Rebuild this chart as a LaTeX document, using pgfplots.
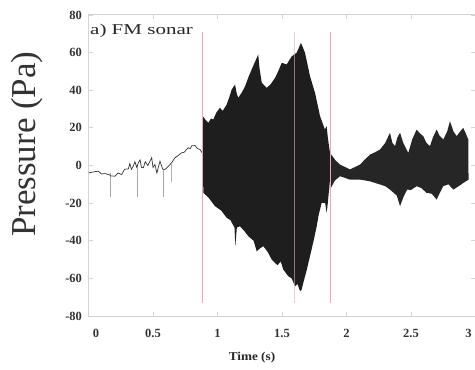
\documentclass[border=0pt]{standalone}
\usepackage{pgfplots}
\pgfplotsset{compat=1.18}
\usepackage{fontspec}
\setmainfont{Liberation Serif}
\definecolor{axgray}{HTML}{D4D4D4}
\definecolor{redline}{HTML}{EBA9AE}
\definecolor{sig}{HTML}{1E1E1E}
\begin{document}
\begin{tikzpicture}
\begin{axis}[
  scale only axis, width=387pt, height=301pt,
  xmin=0, xmax=3, ymin=-80, ymax=80,
  xtick={0,0.5,1,1.5,2,2.5,3},
  xticklabels={\hspace{15pt}0,0.5,1,1.5,2,2.5,3\rule{14pt}{0pt}},
  ytick={-80,-60,-40,-20,0,20,40,60,80},
  /pgf/number format/assume math mode=true,
  axis line style={axgray, line width=1pt},
  tick style={axgray, line width=0.8pt},
  tick label style={font=\bfseries\fontsize{12.5}{13}\selectfont, text=black!80},
  yticklabel style={xshift=-3pt},
  xticklabel style={yshift=-10pt},
  xlabel={\scalebox{1.1}[1]{\bfseries\fontsize{12}{12}\selectfont Time (s)}},
  xlabel style={at={([yshift=-42pt]axis description cs:0.4225,0)}, anchor=center, text=black!85},
  ylabel={\fontsize{35}{35}\selectfont Pressure (Pa)},
  ylabel style={at={([xshift=-61pt]axis description cs:0,0.571)}, anchor=center, text=black!80},
  clip=true,
]
\coordinate (A) at (rel axis cs:0,0);
\coordinate (B) at (rel axis cs:1,1);
% faint spikes in the pre-signal trace
\addplot[black!35, line width=0.6pt] coordinates {(0.167,-4) (0.167,-17)};
\addplot[black!35, line width=0.6pt] coordinates {(0.376,0) (0.376,-17)};
\addplot[black!35, line width=0.6pt] coordinates {(0.578,-2) (0.578,-17)};
\addplot[black!30, line width=0.6pt] coordinates {(0.64,1) (0.64,-9)};
% pre-signal trace
\addplot[black!80, line width=0.7pt] coordinates {
(0.0,-4) (0.03,-3.5) (0.076,-3) (0.10,-4.5) (0.128,-4.3) (0.165,-5) (0.170,-5.5)
(0.205,-5.7) (0.23,-4) (0.257,-4.8) (0.28,-2) (0.309,-1.8) (0.32,1) (0.333,-2) (0.347,-0.4)
(0.36,2) (0.374,-1) (0.386,1.4) (0.40,3) (0.41,-1) (0.425,-1.2) (0.44,2)
(0.46,0) (0.49,4.1) (0.5,-1) (0.515,0.5) (0.53,-4) (0.554,2.3) (0.576,-2) (0.581,-2)
(0.593,-2.1) (0.61,-1) (0.632,0.5) (0.65,2) (0.67,4.1) (0.69,5) (0.72,6.7) (0.74,7) (0.774,9.4)
(0.79,9) (0.80,10.5) (0.826,10.6) (0.845,9) (0.864,8.5) (0.888,6)
};
% main burst envelope
\addplot[draw=none, fill=sig] coordinates {
(0.887,5) (0.889,26) (0.91,24) (0.929,22.7) (0.95,25) (0.967,24.4) (0.99,28) (1.019,30.7)
(1.04,29) (1.071,32.4) (1.09,36) (1.11,40.4) (1.136,43) (1.15,38) (1.161,36) (1.19,39)
(1.213,42) (1.24,47) (1.265,51) (1.29,55) (1.316,59) (1.325,52) (1.343,44) (1.381,41.3)
(1.41,43) (1.446,46.6) (1.47,50) (1.498,54.6) (1.536,53.7) (1.575,58) (1.614,60) (1.647,65.2)
(1.66,63) (1.678,60) (1.70,53) (1.717,47.5) (1.756,38.6) (1.795,26.2) (1.833,19.1) (1.846,21)
(1.855,15) (1.872,6.7) (1.91,3.2)
(1.88,-8) (1.872,-7.5) (1.855,-20) (1.846,-25.2) (1.835,-20) (1.808,-19.8) (1.785,-26)
(1.769,-32.3) (1.745,-40) (1.717,-48.2) (1.69,-56) (1.665,-62.4) (1.652,-66) (1.64,-66.8)
(1.62,-63) (1.601,-64.2) (1.575,-60) (1.549,-58.9) (1.51,-55.3) (1.49,-51) (1.465,-53)
(1.42,-50) (1.39,-46) (1.355,-42.9) (1.33,-44) (1.304,-45.6) (1.28,-40) (1.239,-37.6)
(1.21,-35) (1.174,-32.3) (1.15,-33) (1.138,-43) (1.132,-33) (1.1,-29) (1.071,-27.8)
(1.03,-24) (0.98,-21.6) (0.93,-17) (0.89,-14.5) (0.887,5)
};
% post-signal envelope
\addplot[draw=none, fill=black!85] coordinates {
(1.87,3.2) (1.91,3) (1.95,0.5) (2.027,-2.1) (2.105,0.5) (2.14,3) (2.182,5.8) (2.22,7)
(2.26,8.5) (2.30,12) (2.337,17.4) (2.356,12) (2.376,10.3) (2.395,15) (2.415,17.4) (2.44,12)
(2.479,6.7) (2.51,14) (2.544,19.1) (2.57,17) (2.595,15.6) (2.62,12) (2.647,10.3) (2.67,15)
(2.699,19.1) (2.72,16) (2.75,13.8) (2.78,18) (2.802,23.5) (2.83,18) (2.854,15.6) (2.88,18)
(2.905,20) (2.925,17) (2.944,13.8)
(2.946,-7.5) (2.905,-9.3) (2.87,-11) (2.828,-12.8) (2.79,-10) (2.75,-11) (2.72,-15)
(2.699,-18.1) (2.66,-15) (2.62,-14.5) (2.58,-12) (2.544,-11) (2.50,-13) (2.47,-12.8)
(2.44,-17) (2.415,-21.6) (2.39,-16) (2.337,-12.8) (2.30,-11) (2.26,-10.1) (2.182,-8.4)
(2.105,-7.5) (2.027,-7.5) (1.95,-5.7) (1.91,-8) (1.872,-12.8) (1.87,3.2)
};
% red markers
\addplot[redline, line width=0.9pt] coordinates {(0.885,-73) (0.885,71)};
\addplot[redline, line width=0.9pt, opacity=0.6] coordinates {(1.595,-73) (1.595,71)};
\addplot[redline, line width=0.9pt] coordinates {(1.872,-73) (1.872,71)};
\node[anchor=north west, inner sep=0pt, text=black!85] at ([xshift=1.5pt,yshift=-9pt]rel axis cs:0,1)
  {\scalebox{1.4}[1]{\fontsize{15}{15}\selectfont a) FM sonar}};
\end{axis}
\pgfresetboundingbox
\path[use as bounding box] ([xshift=-88.5pt,yshift=-53pt]A) rectangle ([xshift=-0.5pt,yshift=15pt]B);
\end{tikzpicture}
\end{document}
